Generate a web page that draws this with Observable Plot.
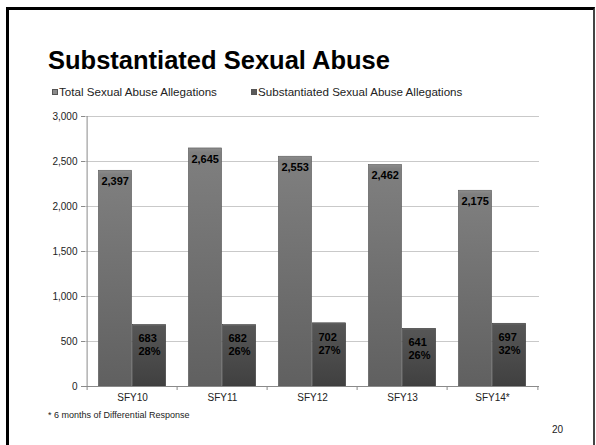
<!DOCTYPE html>
<html><head><meta charset="utf-8">
<script src="https://cdn.jsdelivr.net/npm/d3@7"></script>
<script src="https://cdn.jsdelivr.net/npm/@observablehq/plot@0.6"></script>
<style>
body{margin:0;background:#fff;font-family:"Liberation Sans",Arial,sans-serif;}
#page{position:relative;width:596px;height:445px;overflow:hidden;background:#fff;}
#frame{position:absolute;left:6px;top:7px;right:1px;bottom:-10px;border-left:3px solid #000;border-top:3px solid #000;border-right:2px solid #444;z-index:3;}
#chart{position:absolute;left:0;top:0;z-index:1;}
.txt{position:absolute;z-index:2;white-space:nowrap;color:#000;}
#title{left:48px;top:48px;font-size:25.5px;line-height:25px;font-weight:bold;}
#legend{left:52px;top:86px;font-size:11.6px;line-height:11px;color:#222;}
#legend span.item{position:absolute;top:0;}
#legend i{display:inline-block;width:4px;height:4px;border:1px solid #555;margin-right:1px;vertical-align:1px;}
#note{left:48px;top:411px;font-size:9px;line-height:9px;color:#222;}
#page-num{left:552px;top:425px;font-size:10px;line-height:10px;color:#222;}
</style>
</head><body>
<div id="page">
  <div id="chart"></div>
  <div id="title" class="txt"></div>
  <div id="legend" class="txt"></div>
  <div id="note" class="txt"></div>
  <div id="page-num" class="txt"></div>
  <div id="frame"></div>
</div>
<script>
const titleText = "Substantiated Sexual Abuse";
const seriesNames = ["Total Sexual Abuse Allegations", "Substantiated Sexual Abuse Allegations"];
const categories = ["SFY10", "SFY11", "SFY12", "SFY13", "SFY14*"];
const totalAllegations = [2397, 2645, 2553, 2462, 2175];
const substantiatedAllegations = [683, 682, 702, 641, 697];
const substantiatedPercent = [28, 26, 27, 26, 32];
const yTicks = [0, 500, 1000, 1500, 2000, 2500, 3000];
const footnote = "* 6 months of Differential Response";
const pageNumber = "20";

const rows = categories.map((c, i) => ({
  category: c,
  total: totalAllegations[i],
  sub: substantiatedAllegations[i],
  pct: substantiatedPercent[i]
}));

const W = 596, H = 445;
const mL = 85, mR = 57, mT = 116, mB = 59;
const bw = (W - mL - mR) / categories.length;
const half = bw / 2;
const barW = bw * 0.375;
const outer = (bw - 2 * barW) / 2;
const fmt = d3.format(",");

const chart = Plot.plot({
  width: W, height: H,
  marginLeft: mL, marginRight: mR, marginTop: mT, marginBottom: mB,
  style: {background: "transparent", fontFamily: "Liberation Sans, Arial, sans-serif", color: "#222"},
  x: {type: "band", domain: categories, padding: 0, axis: null},
  y: {domain: [0, 3000], axis: null},
  marks: [
    Plot.gridY(yTicks.filter(d => d > 0), {stroke: "#c9c9c9", strokeOpacity: 1, strokeWidth: 1}),
    Plot.barY(rows, {x: "category", y: "total", fill: "url(#gTotal)", stroke: "#5a5a5a", strokeWidth: 0.6,
      insetLeft: outer, insetRight: half}),
    Plot.barY(rows, {x: "category", y: "sub", fill: "url(#gSub)", stroke: "#3a3a3a", strokeWidth: 0.6,
      insetLeft: half, insetRight: outer}),
    Plot.ruleY([0], {stroke: "#8a8a8a", strokeWidth: 1}),
    Plot.ruleX([categories[0]], {x: d => d, dx: -half, y1: 0, y2: 3000, stroke: "#8a8a8a", strokeWidth: 1}),
    Plot.ruleX(categories, {x: d => d, dx: -half, y1: 0, y2: 0, insetTop: 0, insetBottom: -4, stroke: "#8a8a8a"}),
    Plot.ruleX([categories[categories.length - 1]], {x: d => d, dx: half, y1: 0, y2: 0, insetTop: 0, insetBottom: -4, stroke: "#8a8a8a"}),
    Plot.axisY({ticks: yTicks, tickSize: 4, tickPadding: 4, tickFormat: fmt, fontSize: 10, stroke: "#8a8a8a", color: "#222", label: null}),
    Plot.axisX({tickSize: 0, tickPadding: 7, fontSize: 10, color: "#222", label: null}),
    Plot.text(rows, {x: "category", y: "total", text: d => fmt(d.total), textAnchor: "start", lineAnchor: "top",
      dx: -half + outer + 3, dy: 6.5, fontWeight: "bold", fontSize: 11, fill: "#000"}),
    Plot.text(rows, {x: "category", y: "sub", text: d => `${d.sub}\n${d.pct}%`, textAnchor: "start", lineAnchor: "top",
      dx: 6, dy: 8, lineHeight: 1.18, fontWeight: "bold", fontSize: 11, fill: "#000"})
  ]
});

const defs = d3.select(chart).insert("defs", ":first-child");
function grad(id, stops) {
  const g = defs.append("linearGradient").attr("id", id).attr("x1", 0).attr("y1", 0).attr("x2", 0).attr("y2", 1);
  stops.forEach(([o, c]) => g.append("stop").attr("offset", o).attr("stop-color", c));
}
grad("gTotal", [[0, "#8c8c8c"], [0.02, "#7f7f7f"], [1, "#606060"]]);
grad("gSub", [[0, "#6a6a6a"], [0.03, "#565656"], [1, "#404040"]]);

document.getElementById("chart").appendChild(chart);
document.getElementById("title").textContent = titleText;
const legend = document.getElementById("legend");
const legendColors = ["#8a8a8a", "#5a5a5a"];
const legendOffsets = [0, 199];
seriesNames.forEach((s, i) => {
  const item = document.createElement("span");
  item.className = "item";
  item.style.left = legendOffsets[i] + "px";
  const sw = document.createElement("i");
  sw.style.background = legendColors[i];
  item.appendChild(sw);
  item.appendChild(document.createTextNode(s));
  legend.appendChild(item);
});
document.getElementById("note").textContent = footnote;
document.getElementById("page-num").textContent = pageNumber;
</script>
</body></html>
